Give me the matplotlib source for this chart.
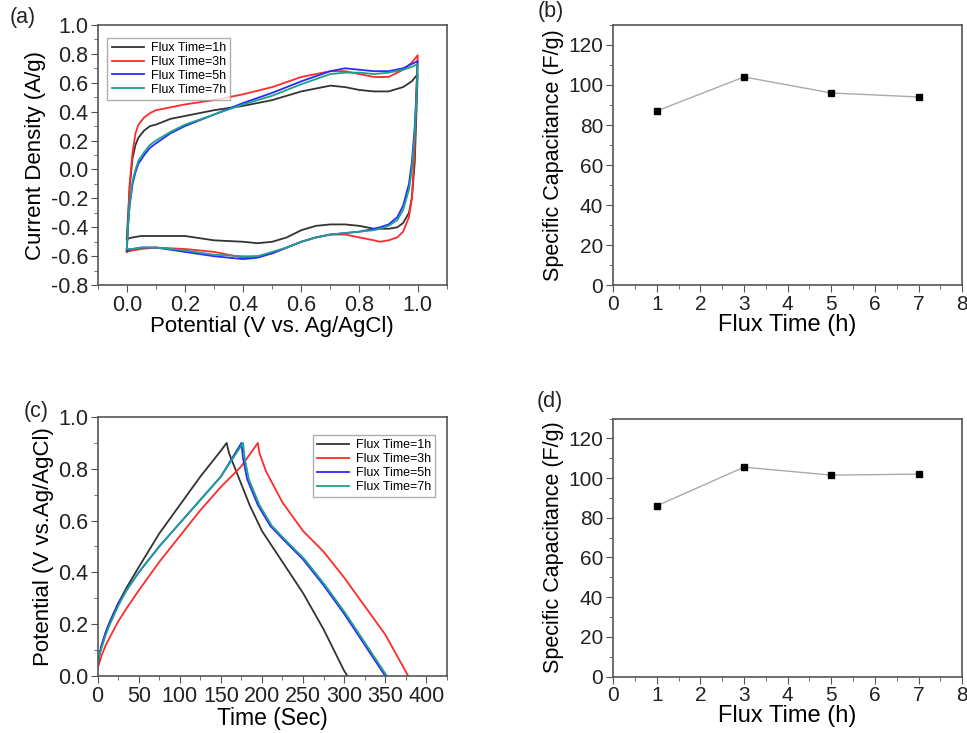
import matplotlib.pyplot as plt
from matplotlib.ticker import MultipleLocator

plt.rcParams['font.family'] = ['Liberation Sans', 'DejaVu Sans']
plt.rcParams['axes.unicode_minus'] = False

labels = ['Flux Time=1h', 'Flux Time=3h', 'Flux Time=5h', 'Flux Time=7h']
colors = ['#333333', '#ff2a2a', '#2a2aff', '#1fa08c']

# (a) CV curves: anodic branch 0 -> 1 V, then cathodic branch 1 -> 0 V
cv_x = [0.0, 0.005, 0.01, 0.02, 0.03, 0.04, 0.06, 0.08, 0.1, 0.15, 0.2, 0.3, 0.4, 0.5,
        0.6, 0.7, 0.75, 0.8, 0.85, 0.9, 0.95, 0.98, 1.0,
        0.995, 0.99, 0.98, 0.97, 0.95, 0.93, 0.9, 0.87, 0.85, 0.8, 0.75, 0.7, 0.65,
        0.6, 0.55, 0.5, 0.45, 0.4, 0.3, 0.2, 0.1, 0.05, 0.02, 0.0]
cv_1h = [-0.48, -0.3, -0.12, 0.08, 0.17, 0.22, 0.27, 0.3, 0.31, 0.35, 0.37, 0.41, 0.44, 0.48,
         0.54, 0.58, 0.57, 0.55, 0.54, 0.54, 0.57, 0.61, 0.66,
         0.35, 0.05, -0.2, -0.3, -0.37, -0.4, -0.41, -0.41, -0.41, -0.39, -0.38, -0.38, -0.39,
         -0.42, -0.47, -0.5, -0.51, -0.5, -0.49, -0.46, -0.46, -0.46, -0.47, -0.48]
cv_3h = [-0.57, -0.35, -0.1, 0.12, 0.25, 0.31, 0.36, 0.39, 0.41, 0.43, 0.45, 0.48, 0.52, 0.57,
         0.64, 0.68, 0.68, 0.66, 0.64, 0.64, 0.69, 0.74, 0.79,
         0.5, 0.15, -0.2, -0.33, -0.43, -0.47, -0.49, -0.5, -0.49, -0.47, -0.45, -0.45, -0.47,
         -0.5, -0.54, -0.58, -0.6, -0.61, -0.57, -0.55, -0.54, -0.55, -0.56, -0.57]
cv_5h = [-0.56, -0.38, -0.25, -0.1, -0.02, 0.04, 0.1, 0.15, 0.18, 0.25, 0.3, 0.38, 0.46, 0.53,
         0.61, 0.68, 0.70, 0.69, 0.68, 0.68, 0.70, 0.73, 0.75,
         0.5, 0.3, 0.05, -0.1, -0.25, -0.33, -0.38, -0.4, -0.41, -0.43, -0.44, -0.45, -0.47,
         -0.5, -0.54, -0.58, -0.61, -0.62, -0.6, -0.57, -0.54, -0.54, -0.55, -0.56]
cv_7h = [-0.55, -0.37, -0.23, -0.08, 0.0, 0.06, 0.12, 0.17, 0.2, 0.26, 0.31, 0.38, 0.45, 0.51,
         0.59, 0.66, 0.67, 0.67, 0.66, 0.67, 0.69, 0.71, 0.73,
         0.45, 0.25, 0.0, -0.14, -0.28, -0.35, -0.39, -0.41, -0.42, -0.43, -0.44, -0.45, -0.47,
         -0.5, -0.54, -0.57, -0.6, -0.6, -0.59, -0.56, -0.54, -0.54, -0.55, -0.55]

# (c) galvanostatic charge/discharge
gcd_t_1h = [0, 2, 5, 10, 15, 25, 35, 50, 75, 100, 125, 150, 157,
            160, 170, 185, 200, 225, 250, 275, 300, 304]
gcd_v_1h = [0.04, 0.08, 0.12, 0.17, 0.21, 0.28, 0.34, 0.42, 0.55, 0.66, 0.77, 0.87, 0.90,
            0.86, 0.78, 0.66, 0.56, 0.44, 0.32, 0.18, 0.02, 0.0]
gcd_t_3h = [0, 2, 5, 10, 15, 25, 35, 50, 75, 100, 125, 150, 175, 195,
            197, 205, 225, 250, 275, 300, 325, 350, 378]
gcd_v_3h = [0.03, 0.05, 0.08, 0.12, 0.15, 0.21, 0.26, 0.33, 0.44, 0.54, 0.64, 0.73, 0.81, 0.90,
            0.86, 0.79, 0.67, 0.56, 0.48, 0.38, 0.27, 0.16, 0.0]
gcd_t_5h = [0, 2, 5, 10, 15, 25, 35, 50, 75, 100, 125, 150, 175,
            177, 182, 195, 210, 225, 250, 275, 300, 325, 350]
gcd_v_5h = [0.04, 0.08, 0.12, 0.17, 0.21, 0.28, 0.33, 0.4, 0.5, 0.59, 0.68, 0.77, 0.90,
            0.84, 0.76, 0.66, 0.58, 0.53, 0.45, 0.35, 0.24, 0.12, 0.0]
gcd_t_7h = [0, 2, 5, 10, 15, 25, 35, 50, 75, 100, 125, 150, 177,
            179, 184, 197, 212, 227, 252, 277, 302, 327, 352]
gcd_v_7h = [0.04, 0.08, 0.11, 0.16, 0.2, 0.27, 0.33, 0.4, 0.5, 0.59, 0.68, 0.77, 0.90,
            0.84, 0.76, 0.66, 0.58, 0.53, 0.45, 0.35, 0.24, 0.12, 0.0]

# (b) and (d) specific capacitance
flux_h = [1, 3, 5, 7]
cap_cv = [87, 104, 96, 94]
cap_gcd = [86, 105.5, 101.5, 102]

fig = plt.figure(figsize=(9.67, 7.33), dpi=100)
ax_a = fig.add_axes([0.101, 0.611, 0.361, 0.355])
ax_b = fig.add_axes([0.634, 0.611, 0.361, 0.355])
ax_c = fig.add_axes([0.101, 0.078, 0.361, 0.353])
ax_d = fig.add_axes([0.634, 0.077, 0.361, 0.352])


def style(ax, tick_fs):
    for s in ax.spines.values():
        s.set_color('#555555')
        s.set_linewidth(1.2)
    ax.tick_params(which='both', direction='out', top=False, right=False,
                   colors='#555555', labelcolor='#222222')
    ax.tick_params(which='major', length=5, labelsize=tick_fs, pad=2)
    ax.tick_params(which='minor', length=3)


leg_kw = dict(fontsize=9, frameon=True, fancybox=False, edgecolor='#999999',
              handlelength=2.6, borderpad=0.35, labelspacing=0.15, handletextpad=0.5)

for y_, c, lab in zip([cv_1h, cv_3h, cv_5h, cv_7h], colors, labels):
    ax_a.plot(cv_x, y_, color=c, lw=1.3, label=lab)
ax_a.set_xlim(-0.1, 1.1)
ax_a.set_ylim(-0.8, 1.0)
ax_a.set_xticks([0, 0.2, 0.4, 0.6, 0.8, 1.0])
ax_a.xaxis.set_minor_locator(MultipleLocator(0.1))
ax_a.yaxis.set_major_locator(MultipleLocator(0.2))
ax_a.yaxis.set_minor_locator(MultipleLocator(0.1))
ax_a.set_xlabel('Potential (V vs. Ag/AgCl)', fontsize=16, labelpad=0)
ax_a.set_ylabel('Current Density (A/g)', fontsize=16, labelpad=3)
ax_a.legend(loc='upper left', bbox_to_anchor=(0.01, 0.975), **leg_kw)
style(ax_a, 15.5)

gcd = [(gcd_t_1h, gcd_v_1h), (gcd_t_3h, gcd_v_3h), (gcd_t_5h, gcd_v_5h), (gcd_t_7h, gcd_v_7h)]
for (t_, v_), c, lab in zip(gcd, colors, labels):
    ax_c.plot(t_, v_, color=c, lw=1.3, label=lab)
ax_c.set_xlim(0, 425)
ax_c.set_ylim(0, 1.0)
ax_c.xaxis.set_major_locator(MultipleLocator(50))
ax_c.xaxis.set_minor_locator(MultipleLocator(25))
ax_c.yaxis.set_major_locator(MultipleLocator(0.2))
ax_c.yaxis.set_minor_locator(MultipleLocator(0.1))
ax_c.set_xlabel('Time (Sec)', fontsize=16.5, labelpad=0)
ax_c.set_ylabel('Potential (V vs.Ag/AgCl)', fontsize=16, labelpad=3)
ax_c.legend(loc='upper right', bbox_to_anchor=(0.985, 0.955), **leg_kw)
style(ax_c, 15.5)

for ax, cap in [(ax_b, cap_cv), (ax_d, cap_gcd)]:
    ax.plot(flux_h, cap, color='#aaaaaa', lw=1.0, marker='s', ms=4.5,
            mfc='black', mec='black')
    ax.set_xlim(0, 8)
    ax.set_ylim(0, 130)
    ax.xaxis.set_major_locator(MultipleLocator(1))
    ax.xaxis.set_minor_locator(MultipleLocator(0.5))
    ax.set_yticks([0, 20, 40, 60, 80, 100, 120])
    ax.yaxis.set_minor_locator(MultipleLocator(10))
    ax.set_xlabel('Flux Time (h)', fontsize=17, labelpad=0)
    ax.set_ylabel('Specific Capacitance (F/g)', fontsize=15.5, labelpad=3)
    style(ax, 15)

for px, py, s in [(10, 18, '(a)'), (538, 11, '(b)'), (24, 411, '(c)'), (537, 401, '(d)')]:
    fig.text(px / 967, 1 - py / 733, s, fontsize=15.5, va='center', ha='left', color='#222222')

fig.savefig('out.png', dpi=100)
